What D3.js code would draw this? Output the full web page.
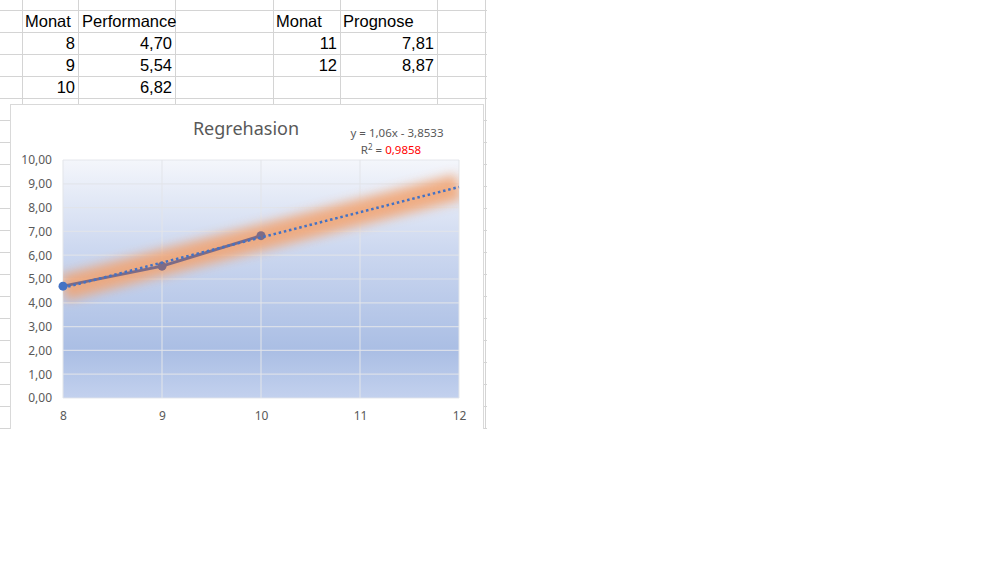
<!DOCTYPE html>
<html>
<head>
<meta charset="utf-8">
<script src="https://cdn.jsdelivr.net/npm/d3@7"></script>
<style>
  body { margin: 0; background: #fff; }
  svg { display: block; }
</style>
</head>
<body>
<div id="chart"></div>
<script>
// data
const monate = [8, 9, 10];
const performance = [4.70, 5.54, 6.82];
const prognoseMonate = [11, 12];
const prognose = [7.81, 8.87];
const slope = 1.06;
const intercept = -3.8533;
const rSquared = 0.9858;
const yTicks = [0, 1, 2, 3, 4, 5, 6, 7, 8, 9, 10];
const xTicks = [8, 9, 10, 11, 12];

const de = d3.formatLocale({ decimal: ",", thousands: ".", grouping: [3], currency: ["", " €"] });
const f2 = de.format(".2f");

const svg = d3.select("#chart").append("svg")
    .attr("width", 1000)
    .attr("height", 563);

// spreadsheet grid
const cols = [22, 78, 175, 273, 340, 437, 485];
const grid = svg.append("g").attr("stroke", "#d4d4d4").attr("stroke-width", 1);
cols.forEach(cx => {
    grid.append("line").attr("x1", cx + 0.5).attr("x2", cx + 0.5).attr("y1", 0).attr("y2", 428);
});
for (let ry = 10; ry <= 428; ry += 22) {
    grid.append("line").attr("x1", 0).attr("x2", 487).attr("y1", ry + 0.5).attr("y2", ry + 0.5);
}

// table text
const cellFont = "'Liberation Sans', Arial, sans-serif";
const table = svg.append("g").style("font-family", cellFont).style("font-size", "16.5px").attr("fill", "#000");
table.append("text").attr("x", 25).attr("y", 27).text("Monat");
table.append("text").attr("x", 82).attr("y", 27).text("Performance");
table.append("text").attr("x", 276).attr("y", 27).text("Monat");
table.append("text").attr("x", 343).attr("y", 27).text("Prognose");

monate.forEach((m, i) => {
    const ty = 49 + i * 22;
    table.append("text").attr("x", 75).attr("y", ty).attr("text-anchor", "end").text(m);
    table.append("text").attr("x", 172).attr("y", ty).attr("text-anchor", "end").text(f2(performance[i]));
});
prognoseMonate.forEach((m, i) => {
    const ty = 49 + i * 22;
    table.append("text").attr("x", 337).attr("y", ty).attr("text-anchor", "end").text(m);
    table.append("text").attr("x", 434).attr("y", ty).attr("text-anchor", "end").text(f2(prognose[i]));
});

// chart box (cut off at the bottom of the screenshot)
svg.append("rect")
    .attr("x", 10.5).attr("y", 104.5)
    .attr("width", 473).attr("height", 340)
    .attr("fill", "#fff")
    .attr("stroke", "#d9d9d9");

const defs = svg.append("defs");
const grad = defs.append("linearGradient").attr("id", "bg")
    .attr("x1", 0).attr("y1", 0).attr("x2", 0).attr("y2", 1);
grad.append("stop").attr("offset", "0%").attr("stop-color", "#f4f6fb");
grad.append("stop").attr("offset", "40%").attr("stop-color", "#cad6ef");
grad.append("stop").attr("offset", "80%").attr("stop-color", "#aabee4");
grad.append("stop").attr("offset", "100%").attr("stop-color", "#c3d1ee");

defs.append("filter").attr("id", "glow")
    .attr("x", "-20%").attr("y", "-50%").attr("width", "140%").attr("height", "200%")
    .append("feGaussianBlur").attr("stdDeviation", 5.5);

const plotLeft = 63, plotRight = 459, plotTop = 160, plotBottom = 398;
defs.append("clipPath").attr("id", "plotclip")
    .append("rect").attr("x", plotLeft).attr("y", plotTop - 40)
    .attr("width", plotRight - plotLeft).attr("height", plotBottom - plotTop + 80);

const x = d3.scaleLinear().domain([8, 12]).range([plotLeft, plotRight]);
const y = d3.scaleLinear().domain([0, 10]).range([plotBottom, plotTop]);

svg.append("rect")
    .attr("x", plotLeft).attr("y", plotTop)
    .attr("width", plotRight - plotLeft).attr("height", plotBottom - plotTop)
    .attr("fill", "url(#bg)");

// gridlines
svg.append("g")
    .selectAll("line")
    .data(yTicks)
    .enter().append("line")
    .attr("x1", plotLeft).attr("x2", plotRight)
    .attr("y1", d => y(d)).attr("y2", d => y(d))
    .attr("stroke", "#e2e4ea").attr("stroke-width", 1.2).attr("opacity", 0.85);
svg.append("g")
    .selectAll("line")
    .data(xTicks)
    .enter().append("line")
    .attr("x1", d => x(d)).attr("x2", d => x(d))
    .attr("y1", plotTop).attr("y2", plotBottom)
    .attr("stroke", "#e2e4ea").attr("stroke-width", 1.2).attr("opacity", 0.85);

// axes
const txtFont = "'Noto Sans', 'Open Sans', sans-serif";
const yAxis = svg.append("g")
    .attr("transform", `translate(${plotLeft - 8},0)`)
    .call(d3.axisLeft(y).tickValues(yTicks).tickFormat(f2).tickSize(0));
yAxis.select(".domain").remove();
yAxis.selectAll("text").attr("fill", "#595959").style("font-family", txtFont).style("font-size", "12px");

const xAxis = svg.append("g")
    .attr("transform", `translate(0,${plotBottom + 10})`)
    .call(d3.axisBottom(x).tickValues(xTicks).tickFormat(d3.format("d")).tickSize(0));
xAxis.select(".domain").remove();
xAxis.selectAll("text").attr("fill", "#595959").style("font-family", txtFont).style("font-size", "12px");

// trend glow
const trendX = [8, 12];
const trendLine = d3.line().x(d => x(d)).y(d => y(slope * d + intercept));
svg.append("g").attr("clip-path", "url(#plotclip)")
    .append("path")
    .datum(trendX)
    .attr("d", trendLine)
    .attr("fill", "none")
    .attr("stroke", "#f2a36f")
    .attr("stroke-width", 26)
    .attr("opacity", 0.85)
    .attr("filter", "url(#glow)");

// series
const series = monate.map((m, i) => ({ m, v: performance[i] }));
svg.append("path")
    .datum(series)
    .attr("d", d3.line().x(d => x(d.m)).y(d => y(d.v)))
    .attr("fill", "none")
    .attr("stroke", "#7d6b86")
    .attr("stroke-width", 3);

svg.selectAll("circle.pt")
    .data(series)
    .enter().append("circle")
    .attr("class", "pt")
    .attr("cx", d => x(d.m))
    .attr("cy", d => y(d.v))
    .attr("r", 4.5)
    .attr("fill", (d, i) => i === 0 ? "#4472c4" : "#7d6b86");

// trend dotted
svg.append("path")
    .datum(trendX)
    .attr("d", trendLine)
    .attr("fill", "none")
    .attr("stroke", "#4472c4")
    .attr("stroke-width", 2.5)
    .attr("stroke-dasharray", "2.5 2.8");

// title
svg.append("text")
    .attr("x", 246).attr("y", 135)
    .attr("text-anchor", "middle")
    .attr("fill", "#595959")
    .style("font-family", txtFont)
    .style("font-size", "18px")
    .text("Regrehasion");

// equation
const eq = svg.append("g").style("font-family", txtFont).style("font-size", "11.5px").attr("fill", "#595959");
eq.append("text").attr("x", 397).attr("y", 137).attr("text-anchor", "middle")
    .text(`y = ${de.format(".2f")(slope)}x - ${de.format(".4f")(-intercept)}`);
const r2 = eq.append("text").attr("x", 391).attr("y", 154).attr("text-anchor", "middle");
r2.append("tspan").text("R");
r2.append("tspan").attr("dy", -4).style("font-size", "8px").text("2");
r2.append("tspan").attr("dy", 4).text(" = ");
r2.append("tspan").attr("fill", "#ff0000").text(de.format(".4f")(rSquared));

// screenshot ends here
svg.append("rect")
    .attr("x", 0).attr("y", 429)
    .attr("width", 1000).attr("height", 134)
    .attr("fill", "#fff");
</script>
</body>
</html>
